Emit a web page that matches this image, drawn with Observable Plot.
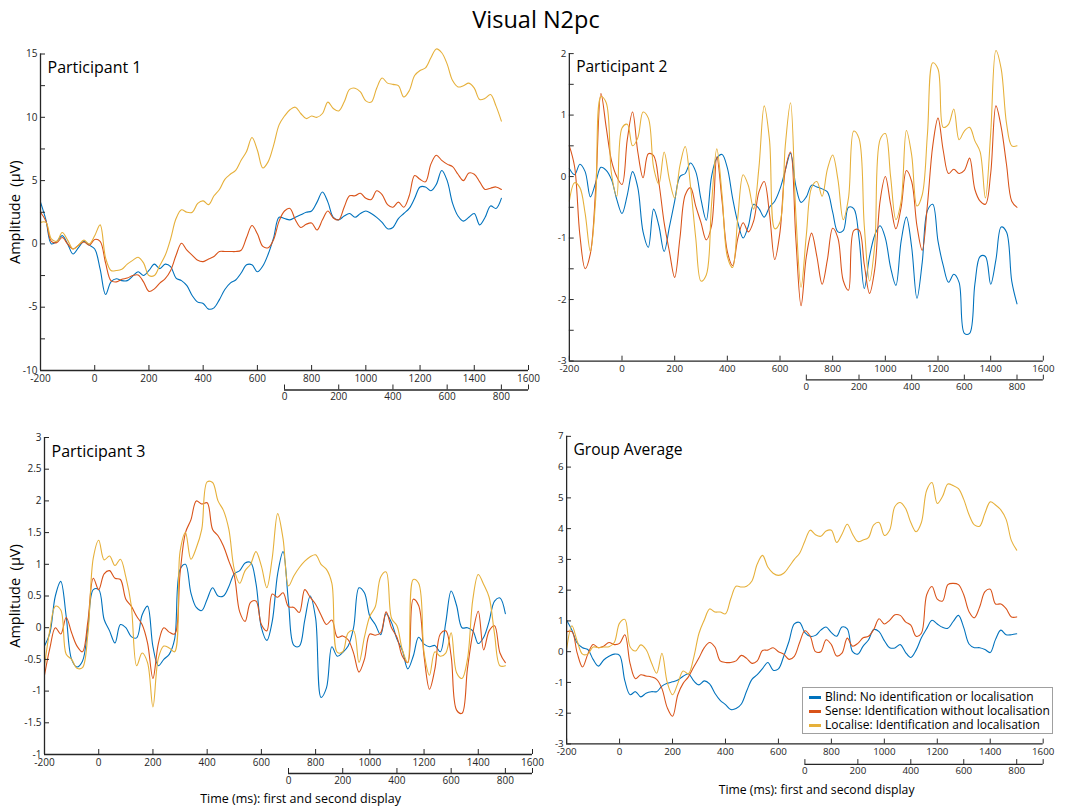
<!DOCTYPE html>
<html>
<head>
<meta charset="utf-8">
<title>Visual N2pc</title>
<script src="https://cdn.jsdelivr.net/npm/d3@7"></script>
<script src="https://cdn.jsdelivr.net/npm/@observablehq/plot@0.6"></script>
<style>
  body { margin: 0; background: #fff; font-family: "Open Sans", sans-serif; color: #262626; }
  #chart { position: relative; width: 1072px; height: 807px; overflow: hidden; background: #fff; }
  #title { position: absolute; left: 0; top: 4px; width: 1072px; text-align: center; font-size: 23.5px; line-height: 30px; color: #000; }
  .panel { position: absolute; }
  .panel svg { overflow: visible; }
  .legend { position: absolute; box-sizing: border-box; border: 1px solid #a0a0a0; background: #fff; padding: 2px 0 0 0; }
  .legend .row { position: relative; height: 14px; line-height: 14px; font-size: 12px; white-space: nowrap; color: #000; }
  .legend .sw { position: absolute; left: 6px; top: 5.5px; width: 12px; height: 3px; }
  .legend .lab { position: absolute; left: 22px; top: 0; }
</style>
</head>
<body>
<div id="chart"><div id="title">Visual N2pc</div></div>
<script>
// Sampling grid of the ERP waveforms (ms, relative to first display onset)
const times = d3.range(-200, 1501, 20);

// Conditions and their colours
const conditions = [
  "Blind: No identification or localisation",
  "Sense: Identification without localisation",
  "Localise: Identification and localisation"
];
const conditionColors = ["#0072BD", "#D95319", "#E6B03A"];

// Time axis: first display ticks, second display ticks (onset at 700 ms)
const timeTicks = [-200, 0, 200, 400, 600, 800, 1000, 1200, 1400, 1600];
const secondOnset = 700;
const secondTicks = [0, 200, 400, 600, 800, 900];
const secondTickLabels = ["0", "200", "400", "600", "800", ""];

// Participant 1 (µV)
const p1Blind = [
  3.3, 1.9, 0.0, 0.2, 0.65, 0.0, -0.8, -0.3, 0.2, -0.1,
  -0.4, -2.0, -4.0, -3.0, -2.75, -2.9, -2.9, -2.55, -2.2, -2.5,
  -2.1, -1.6, -1.95, -1.6, -1.8, -2.7, -2.9, -3.3, -4.1, -4.6,
  -4.7, -5.15, -5.05, -4.4, -3.6, -3.1, -2.85, -2.3, -1.65, -1.65,
  -2.2, -1.75, -0.8, 0.5, 2.1, 2.0, 1.9, 2.1, 2.3, 2.5,
  2.6, 3.3, 4.1, 3.3, 2.1, 1.9, 2.2, 2.4, 2.1, 2.4,
  2.6, 2.4, 2.1, 1.7, 1.2, 1.3, 2.0, 2.4, 2.8, 3.6,
  4.5, 4.5, 4.2, 4.7, 5.8, 5.0, 3.2, 2.2, 1.8, 2.1,
  2.4, 1.5, 2.1, 3.0, 2.8, 3.6
];
const p1Sense = [
  2.5, 1.8, 0.2, 0.1, 0.5, 0.0, -0.4, -0.1, 0.15, -0.1,
  0.35, 0.2, -1.5, -2.9, -3.0, -2.8, -2.7, -2.5, -2.45, -3.0,
  -3.75, -3.55, -3.1, -2.75, -2.1, -0.9, 0.05, -0.5, -0.9, -1.3,
  -1.4, -1.2, -1.0, -0.6, -0.6, -0.6, -0.6, -0.5, 0.5, 1.45,
  0.8, -0.2, -0.3, 0.35, 1.8, 2.6, 2.8, 1.9, 1.3, 1.55,
  1.65, 1.1, 1.9, 2.6, 2.05, 1.9, 2.9, 3.8, 3.8, 4.0,
  3.6, 3.5, 4.2, 3.9, 3.1, 2.9, 3.3, 2.9, 3.8, 5.4,
  5.1, 4.9, 6.3, 7.0, 6.6, 6.3, 6.1, 5.5, 5.0, 5.6,
  5.5, 4.9, 4.3, 4.4, 4.5, 4.3
];
const p1Localise = [
  1.7, 1.7, 0.4, 0.2, 0.9, 0.3, -0.4, -0.1, 0.3, 0.0,
  0.65, 1.5, -1.1, -2.1, -2.1, -2.0, -1.6, -1.3, -1.05, -1.5,
  -2.5, -2.5, -1.7, -0.9, 0.4, 2.0, 2.7, 2.5, 2.5, 3.2,
  3.4, 3.1, 3.8, 4.3, 5.1, 5.5, 5.8, 6.6, 7.3, 8.4,
  7.4, 6.0, 6.5, 7.8, 9.4, 10.1, 10.6, 10.8, 10.3, 9.9,
  10.1, 10.0, 10.3, 11.2, 10.7, 10.5, 11.2, 12.2, 12.3, 12.0,
  11.3, 11.2, 12.3, 13.1, 12.7, 12.6, 12.5, 11.6, 12.1, 13.3,
  13.7, 13.9, 14.7, 15.4, 15.1, 14.2, 12.9, 12.4, 12.5, 12.7,
  12.3, 11.4, 11.5, 11.8, 10.9, 9.7
];

// Participant 2 (µV)
const p2Blind = [
  0.13, 0.03, 0.2, 0.08, -0.33, -0.1, 0.15, 0.1, -0.05, -0.37,
  -0.6, -0.3, 0.08, -0.18, -0.9, -1.15, -0.53, -0.8, -1.22, -0.82,
  -0.4, 0.0, 0.05, 0.22, 0.08, -0.37, -0.71, 0.0, 0.3, 0.36,
  0.14, -0.35, -0.75, -1.0, -0.8, -0.45, -0.52, -0.66, -0.5, -0.4,
  -0.2, 0.1, 0.38, -0.15, -0.42, -0.33, -0.14, -0.17, -0.2, -0.25,
  -0.58, -0.9, -0.88, -0.5, -0.52, -1.0, -1.82, -1.3, -0.95, -0.8,
  -1.0, -1.48, -1.77, -1.05, -0.66, -1.15, -1.98, -1.4, -0.55, -0.45,
  -1.05, -1.45, -1.72, -1.59, -1.72, -2.55, -2.55, -1.75, -1.3, -1.3,
  -1.75, -1.35, -0.82, -0.9, -1.7, -2.07
];
const p2Sense = [
  0.5, 0.16, -0.95, -1.5, -1.25, -0.2, 1.35, 0.8, 0.26, 0.0,
  -0.13, 0.6, 1.05, 0.4, -0.02, 0.37, 0.34, -0.1, -0.75, -1.22,
  -1.64, -1.0, -0.3, -0.18, -0.48, -0.75, -1.03, -0.8, 0.32, -0.4,
  -1.22, -1.45, -1.0, -0.75, -0.9, -0.72, -0.25, -0.08, -0.6, -1.35,
  -0.9, 0.1, 0.4, -1.0, -2.1, -1.3, -0.92, -1.3, -1.75, -1.35,
  -0.84, -1.0, -1.69, -1.85, -0.88, -0.87, -1.43, -1.9, -1.5, -0.4,
  0.0, -0.45, -0.85, -0.5, 0.1, -0.08, -0.8, -1.2, -0.45, 0.5,
  0.95, 0.42, 0.05, 0.12, 0.05, 0.1, 0.3, -0.21, -0.4, -0.45,
  0.05, 1.15, 0.8, 0.2, -0.4, -0.5
];
const p2Localise = [
  -0.4, -0.1, -0.18, -0.6, -1.22, -0.37, 1.3, 1.2, 0.05, -0.32,
  0.79, 0.85, 0.5, 0.63, 1.05, 0.95, 0.15, -0.12, 0.4, -0.05,
  -0.35, 0.18, 0.49, -0.15, -1.0, -1.7, -1.6, -0.45, 0.45, -0.3,
  -1.3, -1.48, -0.65, 0.03, -0.15, -0.53, 0.15, 1.15, 0.6, -0.85,
  -0.74, 0.5, 1.2, -0.6, -1.8, -0.95, -0.18, -0.08, -0.32, 0.12,
  0.35, -0.05, -0.7, -0.35, 0.74, 0.62, -0.8, -1.7, -1.1, 0.6,
  0.7, 0.0, -0.7, -0.4, 0.75, 0.35, -0.48, -0.3, 0.7, 1.85,
  1.75, 0.8, 0.85, 1.1, 0.6, 0.74, 0.8, 0.58, 0.4, -0.35,
  0.7, 2.05, 1.75, 0.87, 0.5, 0.5
];

// Participant 3 (µV)
const p3Blind = [
  -0.29, -0.08, 0.5, 0.73, 0.18, -0.5, -0.62, -0.53, 0.0, 0.6,
  0.6, 0.13, -0.05, -0.24, 0.05, 0.0, -0.14, -0.16, 0.2, 0.34,
  -0.3, -0.6, -0.5, -0.42, -0.18, 0.92, 1.0, 0.55, 0.32, 0.27,
  0.45, 0.63, 0.5, 0.5, 0.65, 0.85, 0.9, 1.02, 1.03, 0.7,
  0.0, -0.2, 0.1, 0.85, 1.2, 0.4, -0.28, -0.29, 0.12, 0.5,
  0.15, -1.1, -0.95, -0.3, -0.45, -0.39, -0.29, 0.0, 0.63, 0.55,
  0.18, 0.05, -0.11, 0.22, 0.08, -0.18, -0.36, -0.65, -0.45, -0.15,
  -0.26, -0.3, -0.28, -0.38, 0.08, 0.58, 0.35, 0.0, 0.0, -0.05,
  -0.25, -0.15, 0.1, 0.42, 0.47, 0.22
];
const p3Sense = [
  -0.75, -0.32, 0.0, -0.1, 0.16, -0.08, -0.29, -0.38, 0.1, 0.78,
  0.6, 0.85, 0.9, 0.78, 0.76, 0.45, 0.34, 0.18, 0.05, -0.24,
  -0.8, -0.25, 0.0, -0.07, -0.1, 0.85, 1.5, 1.7, 2.0, 1.95,
  1.97, 1.55, 1.45, 1.29, 1.05, 0.82, 0.25, 0.1, 0.4, 0.42,
  0.05, -0.05, 0.53, 0.48, 0.55, 0.33, 0.32, 0.24, 0.6, 0.48,
  0.37, 0.2, 0.05, 0.12, -0.15, -0.13, -0.19, -0.4, -0.7, -0.5,
  -0.1, -0.12, -0.08, 0.25, 0.0, -0.15, -0.45, -0.55, 0.45, 0.35,
  -0.45, -0.97, -0.65, -0.1, -0.05, -0.45, -1.3, -1.35, -0.65, -0.08,
  0.26, -0.35, -0.05, 0.03, -0.4, -0.55
];
const p3Localise = [
  -0.6, -0.03, 0.34, 0.28, -0.42, -0.5, -0.64, -0.63, -0.1, 1.1,
  1.38, 1.07, 1.13, 0.98, 1.08, 0.8, 0.35, -0.6, -0.4, -0.55,
  -1.25, -0.48, -0.29, -0.32, -0.38, 1.2, 1.5, 1.08, 1.26, 1.55,
  2.3, 2.29, 2.0, 1.85, 1.55, 0.92, 0.7, 0.9, 1.0, 1.2,
  0.97, 0.63, 1.1, 1.8, 1.4, 0.66, 0.82, 0.95, 1.05, 1.12,
  1.15, 1.0, 0.92, 0.7, -0.39, -0.38, -0.08, -0.05, -0.55, -0.15,
  0.18, 0.33, 0.8, 0.88, 0.15, 0.03, -0.35, -0.55, 0.76, 0.7,
  -0.39, -0.75, -0.38, -0.45, -0.4, -0.08, -0.71, -0.8, -0.5, 0.45,
  0.84, 0.68, 0.48, -0.1, -0.6, -0.6
];

// Group average (µV)
const gaBlind = [
  1.02, 0.7, 0.28, 0.13, 0.07, -0.25, -0.47, -0.27, -0.15, -0.08,
  -0.12, -0.95, -1.4, -1.3, -1.47, -1.35, -1.3, -1.3, -1.12, -1.03,
  -0.98, -0.92, -0.8, -0.72, -0.95, -1.08, -0.95, -1.05, -1.35, -1.58,
  -1.72, -1.88, -1.85, -1.7, -1.28, -0.9, -0.75, -0.55, -0.35, -0.6,
  -0.56, -0.15, 0.34, 0.9, 0.95, 0.62, 0.5, 0.53, 0.7, 0.8,
  0.62, 0.5, 0.8, 0.74, 0.0, -0.08, 0.18, 0.38, 0.72, 0.65,
  0.36, 0.13, 0.12, 0.23, -0.02, -0.19, 0.05, 0.45, 0.75, 1.02,
  0.9, 0.79, 0.76, 0.98, 1.18, 0.78, 0.25, 0.13, 0.13, 0.07,
  -0.03, 0.4, 0.7, 0.55, 0.55, 0.58
];
const gaSense = [
  0.65, 0.65, -0.05, -0.5, -0.08, 0.23, 0.13, 0.18, 0.3, 0.23,
  0.27, 0.55, -0.4, -0.88, -0.75, -0.79, -0.82, -0.9, -1.2, -1.82,
  -2.1, -1.4, -1.03, -0.82, -0.5, -0.2, 0.13, 0.3, 0.15, -0.3,
  -0.35, -0.35, -0.3, -0.12, -0.22, -0.38, -0.3, 0.04, 0.05, 0.13,
  0.0, -0.08, -0.25, -0.15, 0.3, 0.68, 0.5, 0.0, 0.0, 0.39,
  0.23, -0.14, -0.05, 0.44, 0.18, 0.27, 0.45, 0.5, 0.72, 1.07,
  0.9, 1.02, 1.2, 1.18, 0.97, 0.86, 0.5, 0.6, 1.85, 2.12,
  1.71, 1.65, 2.18, 2.22, 2.18, 1.85, 1.3, 1.1, 1.45, 1.95,
  2.03, 1.55, 1.55, 1.4, 1.13, 1.13
];
const gaLocalise = [
  0.07, 0.84, 0.34, -0.08, -0.08, 0.15, 0.13, 0.15, 0.16, 0.3,
  0.93, 1.05, 0.15, 0.02, 0.22, 0.07, -0.35, -0.7, -0.05, -1.0,
  -1.4, -1.03, -0.63, -0.72, -0.19, 0.6, 1.03, 1.39, 1.29, 1.29,
  1.23, 1.72, 2.13, 2.1, 2.13, 2.3, 2.85, 3.13, 2.75, 2.55,
  2.48, 2.55, 2.76, 3.0, 3.2, 3.6, 3.95, 3.8, 3.75, 3.92,
  3.95, 3.55, 3.82, 4.14, 3.82, 3.58, 3.63, 3.71, 4.12, 4.2,
  3.78, 3.95, 4.72, 4.85, 4.66, 4.2, 3.9, 4.2, 5.25, 5.5,
  4.82, 5.05, 5.45, 5.4, 5.3, 4.95, 4.45, 4.12, 4.08, 4.5,
  4.87, 4.77, 4.61, 4.3, 3.61, 3.3
];

// Amplitude ticks and their labels for each panel
const p1YTicks = [-10, -7.5, -5, -2.5, 0, 2.5, 5, 7.5, 10, 12.5, 15];
const p1YLabels = ["-10", "", "-5", "", "0", "", "5", "", "10", "", "15"];
const p2YTicks = [-3, -2.5, -2, -1.5, -1, -0.5, 0, 0.5, 1, 1.5, 2];
const p2YLabels = ["-3", "", "-2", "", "-1", "", "0", "", "1", "", "2"];
const p3YTicks = [-2, -1.5, -1, -0.5, 0, 0.5, 1, 1.5, 2, 2.5, 3];
const p3YLabels = ["-1", "-1.5", "-1", "-0.5", "0", "0.5", "1", "1.5", "2", "2.5", "3"];
const gaYTicks = [-3, -2, -1, 0, 1, 2, 3, 4, 5, 6, 7];
const gaYLabels = ["-3", "-2", "-1", "0", "1", "2", "3", "4", "5", "6", "7"];

const axisColor = "#262626";
const frameWidth = 488;

const panels = [
  {title: "Participant 1", series: [p1Blind, p1Sense, p1Localise], yTicks: p1YTicks, yLabels: p1YLabels,
   left: 0, top: 40, marginLeft: 40, marginTop: 13.5, frameHeight: 316.5, secDy: 19.5, yLabel: true, xLabel: false},
  {title: "Participant 2", series: [p2Blind, p2Sense, p2Localise], yTicks: p2YTicks, yLabels: p2YLabels,
   left: 530, top: 40, marginLeft: 40, marginTop: 13.5, frameHeight: 316.5, secDy: 19.5, yLabel: false, xLabel: false},
  {title: "Participant 3", series: [p3Blind, p3Sense, p3Localise], yTicks: p3YTicks, yLabels: p3YLabels,
   left: 0, top: 430, marginLeft: 44, marginTop: 7, frameHeight: 317, secDy: 19, yLabel: true, xLabel: true},
  {title: "Group Average", series: [gaBlind, gaSense, gaLocalise], yTicks: gaYTicks, yLabels: gaYLabels,
   left: 530, top: 430, marginLeft: 37, marginTop: 6, frameHeight: 315, secDy: 21, yLabel: false, xLabel: true}
];

const chart = document.getElementById("chart");

for (const p of panels) {
  const rows = p.series.flatMap((vals, k) => vals.map((v, i) => ({t: times[i], v, c: conditions[k]})));
  const yMin = p.yTicks[0];
  const yMax = p.yTicks[p.yTicks.length - 1];
  const marginRight = 30, marginBottom = 60;

  const marks = [
    Plot.line(rows, {x: "t", y: "v", z: "c", stroke: "c", strokeWidth: 1.1, curve: "catmull-rom"}),
    // axis lines (left and bottom only)
    Plot.ruleX([timeTicks[0]], {stroke: axisColor, strokeWidth: 1.3}),
    Plot.ruleY([yMin], {stroke: axisColor, strokeWidth: 1.3}),
    Plot.axisX(timeTicks, {anchor: "bottom", tickSize: -5, tickPadding: 9, stroke: axisColor, fontSize: 10,
      tickFormat: d => String(d)}),
    Plot.axisY(p.yTicks, {anchor: "left", tickSize: -5, tickPadding: 8, stroke: axisColor, fontSize: 10,
      tickFormat: d => p.yLabels[p.yTicks.indexOf(d)]}),
    // second display time axis
    Plot.ruleY([yMin], {x1: secondOnset, x2: timeTicks[timeTicks.length - 1], dy: p.secDy, stroke: axisColor, strokeWidth: 1.3}),
    Plot.axisX(secondTicks.map(d => d + secondOnset), {anchor: "bottom", tickSize: -5, tickPadding: 8, dy: p.secDy,
      stroke: axisColor, fontSize: 10, tickFormat: d => secondTickLabels[secondTicks.indexOf(d - secondOnset)]}),
    Plot.text([p.title], {text: d => d, frameAnchor: "top-left", dx: 7, dy: 14, textAnchor: "start",
      lineAnchor: "middle", fontSize: 16, fill: "#000"})
  ];
  if (p.yLabel) {
    marks.push(Plot.text(["Amplitude\u00A0\u00A0(µV)"], {text: d => d, frameAnchor: "left", dx: -(p.marginLeft - 15),
      rotate: -90, textAnchor: "middle", lineAnchor: "middle", fontSize: 14.5, fill: "#000"}));
  }
  if (p.xLabel) {
    marks.push(Plot.text(["Time (ms): first and second display"], {text: d => d, frameAnchor: "bottom",
      dx: 12, dy: 798 - (p.top + p.marginTop + p.frameHeight), textAnchor: "middle", lineAnchor: "middle",
      fontSize: 12.5, fill: "#000"}));
  }

  const svg = Plot.plot({
    width: p.marginLeft + frameWidth + marginRight,
    height: p.marginTop + p.frameHeight + marginBottom,
    marginLeft: p.marginLeft,
    marginTop: p.marginTop,
    marginRight,
    marginBottom,
    style: {fontFamily: "Open Sans, sans-serif", fontSize: "10px", color: axisColor, background: "transparent", overflow: "visible"},
    x: {domain: [timeTicks[0], timeTicks[timeTicks.length - 1]], label: null},
    y: {domain: [yMin, yMax], label: null},
    color: {domain: conditions, range: conditionColors},
    marks
  });
  const div = document.createElement("div");
  div.className = "panel";
  div.style.left = p.left + "px";
  div.style.top = p.top + "px";
  div.appendChild(svg);
  chart.appendChild(div);
}

// Legend inside the group-average panel
const legend = document.createElement("div");
legend.className = "legend";
legend.style.left = "802px";
legend.style.top = "687px";
legend.style.width = "251px";
legend.style.height = "47px";
conditions.forEach((name, i) => {
  const row = document.createElement("div");
  row.className = "row";
  const sw = document.createElement("span");
  sw.className = "sw";
  sw.style.background = conditionColors[i];
  const lab = document.createElement("span");
  lab.className = "lab";
  lab.textContent = name;
  row.appendChild(sw);
  row.appendChild(lab);
  legend.appendChild(row);
});
chart.appendChild(legend);
</script>
</body>
</html>
